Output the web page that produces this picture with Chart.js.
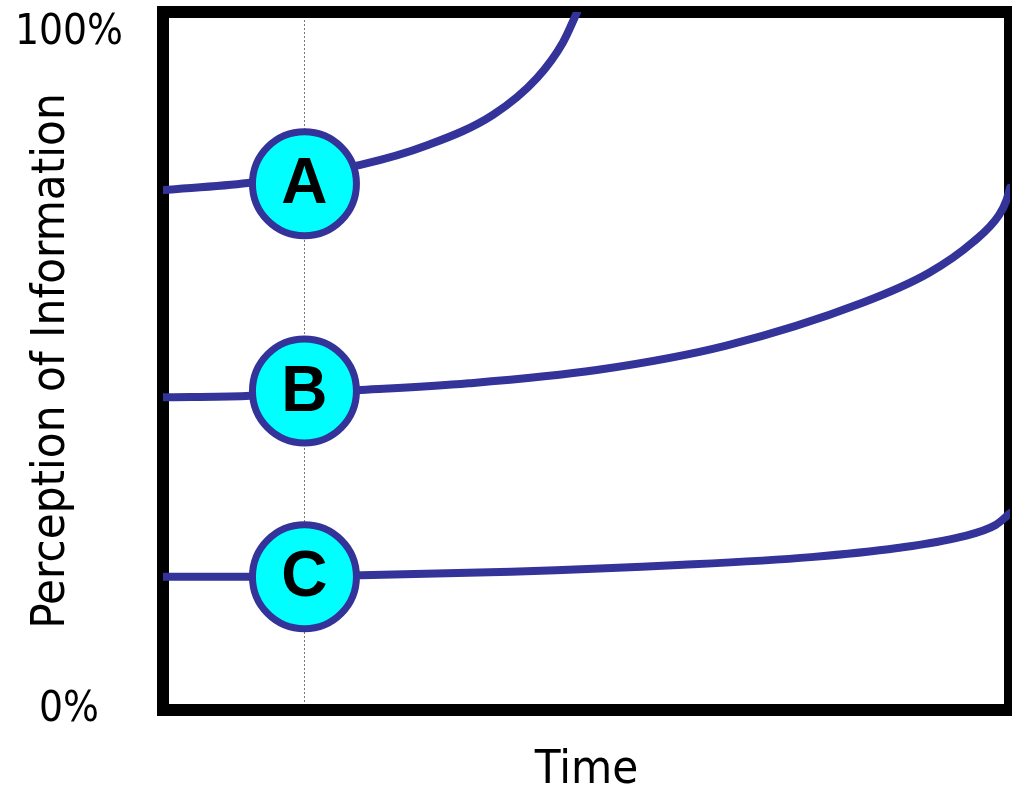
<!DOCTYPE html>
<html>
<head>
<meta charset="utf-8">
<title>Perception of Information over Time</title>
<script src="https://cdn.jsdelivr.net/npm/chart.js@4.4.1/dist/chart.umd.min.js"></script>
<style>
  html, body { margin: 0; padding: 0; background: #fff; }
  canvas { display: block; }
</style>
</head>
<body>
<canvas id="perceptionChart" width="1012" height="794"></canvas>
<script>
// curve A (climbs out of the top)
const timeA = [0, 10, 23.3, 31.2, 39.0, 44.2, 47.2, 48.9];
const perceptionA = [74.5, 75.5, 78.1, 80.9, 85.3, 90.6, 95.6, 100];

// curve B
const timeB = [0, 9.8, 22.9, 36.1, 51.2, 66.5, 82.5, 90.4, 95.6, 98.7, 99.6, 100];
const perceptionB = [44.8, 45.0, 45.8, 46.8, 48.7, 52.2, 58.3, 62.6, 67.0, 70.9, 73.1, 74.8];

// curve C
const timeC = [0, 10.3, 23.4, 41.1, 61.4, 76.5, 86.7, 94.2, 98.3, 100];
const perceptionC = [19.1, 19.1, 19.3, 19.8, 20.8, 21.9, 23.2, 24.8, 26.5, 28.2];

// lettered markers sitting on the dotted line
const markerLabels = ["A", "B", "C"];
const markerTime = 16.7;
const markerPerception = [75.4, 45.7, 19.1];

const yTicks = [0, 100];
const yTickLabels = ["0%", "100%"];

const NAVY = "#333399";
const CYAN = "#00ffff";
const TEXT_FONT = "'DejaVu Sans Condensed', 'DejaVu Sans', sans-serif";

function toPoints(xs, ys) {
  return xs.map((x, i) => ({ x: x, y: ys[i] }));
}

function curve(xs, ys) {
  return {
    type: "line",
    data: toPoints(xs, ys),
    borderColor: NAVY,
    borderWidth: 8,
    borderCapStyle: "round",
    borderJoinStyle: "round",
    cubicInterpolationMode: "monotone",
    pointRadius: 0,
    fill: false,
    order: 1
  };
}

// writes the letter in each marker circle
const markerText = {
  id: "markerText",
  afterDatasetsDraw(chart) {
    const meta = chart.getDatasetMeta(0);
    const ctx = chart.ctx;
    ctx.save();
    ctx.font = "bold 64px 'Liberation Sans', Arial, sans-serif";
    ctx.fillStyle = "#000";
    ctx.textAlign = "center";
    ctx.textBaseline = "middle";
    meta.data.forEach((pt, i) => {
      ctx.fillText(markerLabels[i], pt.x, pt.y + 2);
    });
    ctx.restore();
  }
};

new Chart(document.getElementById("perceptionChart"), {
  type: "line",
  data: {
    datasets: [
      {
        type: "scatter",
        data: markerPerception.map(y => ({ x: markerTime, y: y })),
        pointRadius: 52,
        pointBackgroundColor: CYAN,
        pointBorderColor: NAVY,
        pointBorderWidth: 7,
        showLine: false,
        clip: false,
        order: 0
      },
      curve(timeA, perceptionA),
      curve(timeB, perceptionB),
      curve(timeC, perceptionC)
    ]
  },
  options: {
    responsive: false,
    animation: false,
    layout: { autoPadding: false, padding: { top: 12, right: 2, bottom: 0, left: 0 } },
    plugins: {
      legend: { display: false },
      tooltip: { enabled: false }
    },
    scales: {
      x: {
        type: "linear",
        position: "bottom",
        min: 0,
        max: 100,
        afterBuildTicks: s => { s.ticks = [{ value: markerTime }]; },
        ticks: { display: false },
        grid: { color: "#777", lineWidth: 1, drawTicks: false },
        border: { display: true, width: 12, color: "#000", dash: [2, 2] },
        title: {
          display: true,
          text: "Time",
          color: "#000",
          font: { family: TEXT_FONT, size: 47, lineHeight: 1 },
          padding: { top: 37, bottom: 0 }
        }
      },
      y: {
        type: "linear",
        position: "left",
        min: 0,
        max: 100,
        afterBuildTicks: s => { s.ticks = yTicks.map(v => ({ value: v })); },
        afterFit: s => { s.width = 163; s.paddingTop = 0; s.paddingBottom = 0; },
        ticks: {
          color: "#000",
          padding: 40,
          crossAlign: "center",
          font: { family: TEXT_FONT, size: 42, lineHeight: 1 },
          callback: v => {
            const lbl = yTickLabels[yTicks.indexOf(v)];
            return v === 100 ? ["", lbl] : lbl;
          }
        },
        grid: { display: false, drawTicks: false },
        border: { display: true, width: 12, color: "#000" },
        title: {
          display: true,
          text: "Perception of Information",
          color: "#000",
          font: { family: TEXT_FONT, size: 47, lineHeight: 1 },
          padding: { top: 28, bottom: 0 }
        }
      },
      xTop: {
        type: "linear",
        position: "top",
        display: true,
        ticks: { display: false },
        grid: { display: false, drawTicks: false, lineWidth: 12 },
        border: { display: true, width: 12, color: "#000" }
      },
      yRight: {
        type: "linear",
        position: "right",
        display: true,
        ticks: { display: false },
        grid: { display: false, drawTicks: false, lineWidth: 12 },
        border: { display: true, width: 12, color: "#000" }
      }
    }
  },
  plugins: [markerText]
});
</script>
</body>
</html>
